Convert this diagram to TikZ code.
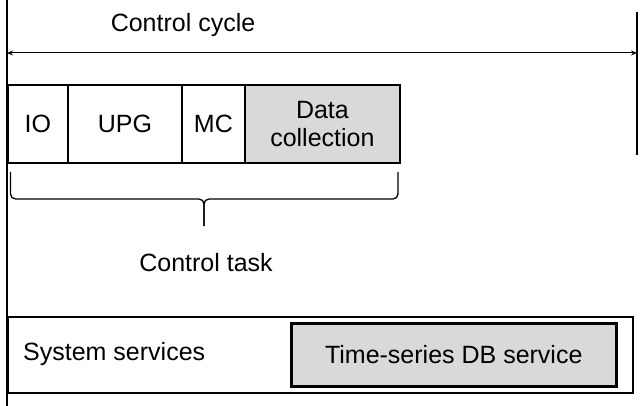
\documentclass[tikz,border=0pt]{standalone}
\usepackage{fontspec}
\setmainfont{Liberation Sans}
\usetikzlibrary{arrows.meta}
\definecolor{boxgray}{HTML}{D9D9D9}
\begin{document}
\begin{tikzpicture}[x=1pt,y=-1pt,
  font=\fontsize{25}{27.5}\selectfont,
  taskbox/.style={draw,line width=1.8pt,inner sep=0pt,anchor=north west,minimum height=78pt,align=center},
  lbl/.style={inner sep=0pt}]
\useasboundingbox (0,0) rectangle (642,406);
% timeline lines
\coordinate (lt) at (7,0);
\coordinate (lb) at (7,406);
\coordinate (rt) at (637,12);
\coordinate (rb) at (637,155);
\draw[line width=1.5pt] (lt) -- (lb);
\draw[line width=1.5pt] (rt) -- (rb);
\coordinate (al) at (7,53);
\coordinate (ar) at (637,53);
\draw[line width=1pt,{Stealth[length=6pt,width=5pt]}-{Stealth[length=6pt,width=5pt]}] (al) -- (ar);
\node[lbl] (cycle) at (183,25) {Control cycle};
% task boxes
\node[taskbox,minimum width=60pt] (io) at (7,84) {IO};
\node[taskbox,minimum width=114pt] (upg) at (67,84) {UPG};
\node[taskbox,minimum width=63pt] (mc) at (181,84) {MC};
\node[taskbox,minimum width=155pt,fill=boxgray] (dc) at (244,84) {Data\\collection};
% brace
\draw[line width=1.3pt,rounded corners=5pt] (10.5,172) -- (10.5,199) -- (204,199) -- (204,226);
\draw[line width=1.3pt,rounded corners=5pt] (398,172) -- (398,199) -- (204,199) -- (204,226);
\node[lbl] (task) at (206,263) {Control task};
% system services
\node[draw,line width=1.5pt,inner sep=0pt,anchor=north west,minimum width=625pt,minimum height=76pt] (sys) at (7,316) {};
\node[lbl,anchor=west] (syslbl) at (23,354) {System services};
\node[draw,line width=2.5pt,fill=boxgray,inner sep=0pt,anchor=north west,minimum width=325pt,minimum height=63pt] (db) at (290,322) {Time-series DB service};
\end{tikzpicture}
\end{document}
